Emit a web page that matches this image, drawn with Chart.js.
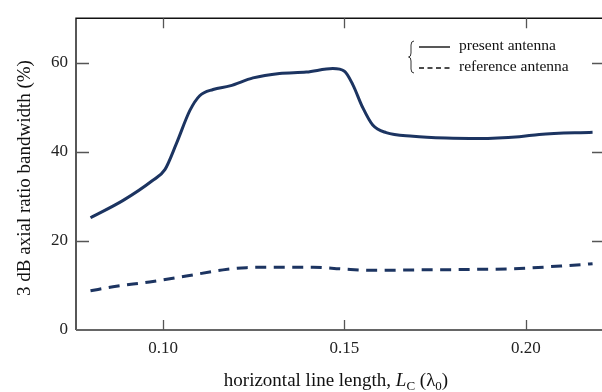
<!DOCTYPE html>
<html>
<head>
<meta charset="utf-8">
<script src="https://cdn.jsdelivr.net/npm/chart.js@4"></script>
<style>
  body { margin: 0; background: #fff; }
  #wrap { width: 602px; height: 392px; }
</style>
</head>
<body>
<div id="wrap"><canvas id="c"></canvas></div>
<script>
var X_TICKS = [0.10, 0.15, 0.20];
var Y_TICKS = [0, 20, 40, 60];

var presentX = [0.080, 0.089, 0.097, 0.1005, 0.1037, 0.1074, 0.1101, 0.1138, 0.1184, 0.1248,
                0.1321, 0.1395, 0.1468, 0.150, 0.1523, 0.155, 0.1578, 0.1615, 0.1689, 0.178,
                0.187, 0.1982, 0.2037, 0.2184];
var presentY = [25.2, 29.1, 33.5, 36.0, 41.9, 49.3, 52.6, 54.0, 54.8, 56.6,
                57.6, 57.9, 58.7, 58.1, 55.1, 50.0, 46.0, 44.3, 43.5, 43.1,
                43.0, 43.4, 43.9, 44.4];

var referenceX = [0.080, 0.0862, 0.0963, 0.1064, 0.1165, 0.123, 0.1321, 0.1413, 0.1495,
                  0.1578, 0.170, 0.1854, 0.1982, 0.2083, 0.2156, 0.2184];
var referenceY = [8.8, 9.7, 10.8, 12.1, 13.5, 14.0, 14.1, 14.1, 13.7,
                  13.4, 13.5, 13.6, 13.8, 14.3, 14.7, 14.9];

var LINE = '#1c3461';
var SERIF = '"Liberation Serif", "Times New Roman", serif';

function pts(xs, ys) {
    return xs.map(function (x, i) { return { x: x, y: ys[i] }; });
}

// frame, inward ticks, titles and the bracketed legend
var decor = {
    id: 'decor',
    afterDraw: function (chart) {
        var ctx = chart.ctx, a = chart.chartArea;
        var xs = chart.scales.x, ys = chart.scales.y;
        ctx.save();

        ctx.lineWidth = 1.4;
        ctx.strokeStyle = '#111';
        ctx.beginPath();
        ctx.moveTo(a.left, a.bottom); ctx.lineTo(a.left, a.top); ctx.lineTo(a.right, a.top);
        ctx.stroke();
        ctx.strokeStyle = '#666';
        ctx.lineWidth = 1.8;
        ctx.beginPath();
        ctx.moveTo(a.left, a.bottom); ctx.lineTo(a.right, a.bottom);
        ctx.stroke();

        ctx.strokeStyle = '#555';
        ctx.lineWidth = 1.3;
        ctx.beginPath();
        X_TICKS.forEach(function (v) {
            var px = Math.round(xs.getPixelForValue(v)) + 0.5;
            ctx.moveTo(px, a.bottom); ctx.lineTo(px, a.bottom - 10);
            ctx.moveTo(px, a.top); ctx.lineTo(px, a.top + 10);
        });
        Y_TICKS.forEach(function (v) {
            if (v === 0) return;
            var py = Math.round(ys.getPixelForValue(v)) + 0.5;
            ctx.moveTo(a.left, py); ctx.lineTo(a.left + 13, py);
            ctx.moveTo(a.right, py); ctx.lineTo(a.right - 10, py);
        });
        ctx.stroke();

        // x title with italic L and subscripts
        var parts = [
            { t: 'horizontal line length, ', f: '19px ' + SERIF, dy: 0 },
            { t: 'L', f: 'italic 19px ' + SERIF, dy: 0 },
            { t: 'C', f: '13px ' + SERIF, dy: 4 },
            { t: ' (λ', f: '19px ' + SERIF, dy: 0 },
            { t: '0', f: '13px ' + SERIF, dy: 4 },
            { t: ')', f: '19px ' + SERIF, dy: 0 }
        ];
        var total = 0;
        parts.forEach(function (p) { ctx.font = p.f; p.w = ctx.measureText(p.t).width; total += p.w; });
        var cx = 336 - total / 2;
        ctx.fillStyle = '#111';
        ctx.textBaseline = 'alphabetic';
        ctx.textAlign = 'left';
        parts.forEach(function (p) {
            ctx.font = p.f;
            ctx.fillText(p.t, cx, 386 + p.dy);
            cx += p.w;
        });

        // y title
        ctx.save();
        ctx.translate(25, 178);
        ctx.rotate(-Math.PI / 2);
        ctx.font = '19px ' + SERIF;
        ctx.textAlign = 'center';
        ctx.textBaseline = 'middle';
        ctx.fillText('3 dB axial ratio bandwidth (%)', 0, 0);
        ctx.restore();

        // legend
        ctx.strokeStyle = '#333';
        ctx.lineWidth = 1;
        ctx.beginPath();
        ctx.moveTo(414, 41);
        ctx.quadraticCurveTo(411, 41, 411, 45);
        ctx.lineTo(411, 53);
        ctx.quadraticCurveTo(411, 57, 408.5, 57);
        ctx.quadraticCurveTo(411, 57, 411, 61);
        ctx.lineTo(411, 69);
        ctx.quadraticCurveTo(411, 73, 414, 73);
        ctx.stroke();

        ctx.strokeStyle = '#111';
        ctx.lineWidth = 1.4;
        chart.data.datasets.forEach(function (ds, i) {
            var y = 47 + i * 21;
            ctx.setLineDash(ds.borderDash && ds.borderDash.length ? [5, 3.5] : []);
            ctx.beginPath();
            ctx.moveTo(419, y); ctx.lineTo(450, y);
            ctx.stroke();
            ctx.setLineDash([]);
            ctx.font = '15.5px ' + SERIF;
            ctx.textAlign = 'left';
            ctx.textBaseline = 'middle';
            ctx.fillText(ds.label, 459, y - 1);
        });

        ctx.restore();
    }
};

new Chart(document.getElementById('c'), {
    type: 'line',
    data: {
        datasets: [
            {
                label: 'present antenna',
                data: pts(presentX, presentY),
                borderColor: LINE,
                borderWidth: 3,
                pointRadius: 0,
                cubicInterpolationMode: 'monotone'
            },
            {
                label: 'reference antenna',
                data: pts(referenceX, referenceY),
                borderColor: LINE,
                borderWidth: 3,
                borderDash: [11, 7.5],
                pointRadius: 0,
                cubicInterpolationMode: 'monotone'
            }
        ]
    },
    options: {
        responsive: true,
        maintainAspectRatio: false,
        animation: false,
        layout: { padding: { top: 13, right: 0, left: 0, bottom: 0 } },
        plugins: { legend: { display: false }, tooltip: { enabled: false } },
        scales: {
            x: {
                type: 'linear',
                min: 0.076,
                max: 0.221,
                grid: { display: false, drawTicks: false },
                border: { display: false },
                afterBuildTicks: function (s) { s.ticks = X_TICKS.map(function (v) { return { value: v }; }); },
                afterFit: function (s) { s.height = 62; },
                ticks: {
                    padding: 8,
                    color: '#222',
                    font: { family: SERIF, size: 17 },
                    callback: function (v) { return v.toFixed(2); }
                }
            },
            y: {
                min: 0,
                max: 70,
                grid: { display: false, drawTicks: false },
                border: { display: false },
                afterBuildTicks: function (s) { s.ticks = Y_TICKS.map(function (v) { return { value: v }; }); },
                afterFit: function (s) { s.width = 76; },
                ticks: {
                    padding: 8,
                    color: '#222',
                    font: { family: SERIF, size: 17 }
                }
            }
        }
    },
    plugins: [decor]
});
</script>
</body>
</html>
